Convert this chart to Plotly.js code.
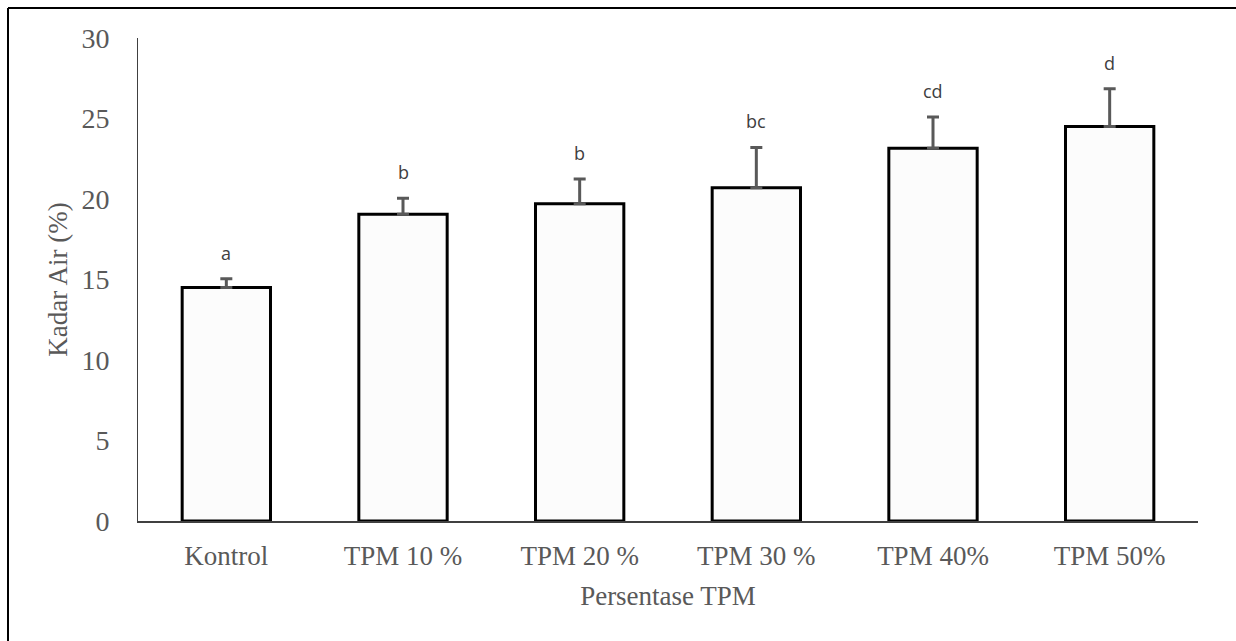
<!DOCTYPE html>
<html>
<head>
<meta charset="utf-8">
<script src="https://cdn.plot.ly/plotly-3.0.1.min.js"></script>
<style>
  html, body { margin: 0; padding: 0; background: #ffffff; }
  #chart { width: 1236px; height: 641px; }
</style>
</head>
<body>
<div id="chart"></div>
<script>
const categories = ["Kontrol", "TPM 10 %", "TPM 20 %", "TPM 30 %", "TPM 40%", "TPM 50%"];
const kadarAir = [14.5, 19.05, 19.7, 20.7, 23.15, 24.5];
const errorPlus = [0.55, 1.0, 1.55, 2.5, 1.95, 2.35];
const letters = ["a", "b", "b", "bc", "cd", "d"];
const yTicks = [0, 5, 10, 15, 20, 25, 30];

const trace = {
  type: "bar",
  x: categories,
  y: kadarAir,
  marker: { color: "#fcfcfc", line: { color: "#000000", width: 3 } },
  error_y: {
    type: "data",
    symmetric: false,
    array: errorPlus,
    arrayminus: errorPlus.map(() => 0),
    color: "#595959",
    thickness: 3,
    width: 6
  },
  hoverinfo: "skip"
};

const annotations = categories.map((c, i) => ({
  x: c,
  y: kadarAir[i] + errorPlus[i],
  xref: "x",
  yref: "y",
  text: letters[i],
  showarrow: false,
  yanchor: "middle",
  yshift: 26,
  font: { family: "Open Sans, Noto Sans, sans-serif", size: 18, color: "#404040" }
}));

const px = v => (v - 138) / 1060;
const py = v => (521 - v) / 483;

const layout = {
  width: 1236,
  height: 641,
  margin: { l: 138, r: 38, t: 38, b: 120 },
  paper_bgcolor: "#ffffff",
  plot_bgcolor: "#ffffff",
  showlegend: false,
  bargap: 0.5,
  xaxis: {
    type: "category",
    showline: true,
    linecolor: "#404040",
    linewidth: 1.5,
    ticks: "",
    showgrid: false,
    zeroline: false,
    ticklabelstandoff: 10,
    tickfont: { family: "Liberation Serif, Times New Roman, serif", size: 27, color: "#595959" },
    title: {
      text: "Persentase TPM",
      standoff: 16,
      font: { family: "Liberation Serif, Times New Roman, serif", size: 27, color: "#595959" }
    }
  },
  yaxis: {
    range: [0, 30],
    tickvals: yTicks,
    ticktext: yTicks.map(String),
    showline: true,
    linecolor: "#404040",
    linewidth: 1,
    ticks: "",
    showgrid: false,
    zeroline: false,
    ticklabelstandoff: 22,
    tickfont: { family: "Liberation Serif, Times New Roman, serif", size: 28, color: "#595959" },
    title: {
      text: "Kadar Air (%)",
      standoff: 5,
      font: { family: "Liberation Serif, Times New Roman, serif", size: 27, color: "#595959" }
    }
  },
  annotations: annotations,
  shapes: [
    { type: "line", xref: "paper", yref: "paper", x0: px(8), x1: px(8), y0: py(8), y1: py(660), line: { color: "#000000", width: 2 } },
    { type: "line", xref: "paper", yref: "paper", x0: px(8), x1: px(1260), y0: py(8), y1: py(8), line: { color: "#000000", width: 2 } }
  ]
};

Plotly.newPlot("chart", [trace], layout, { displayModeBar: false, staticPlot: true });
</script>
</body>
</html>
